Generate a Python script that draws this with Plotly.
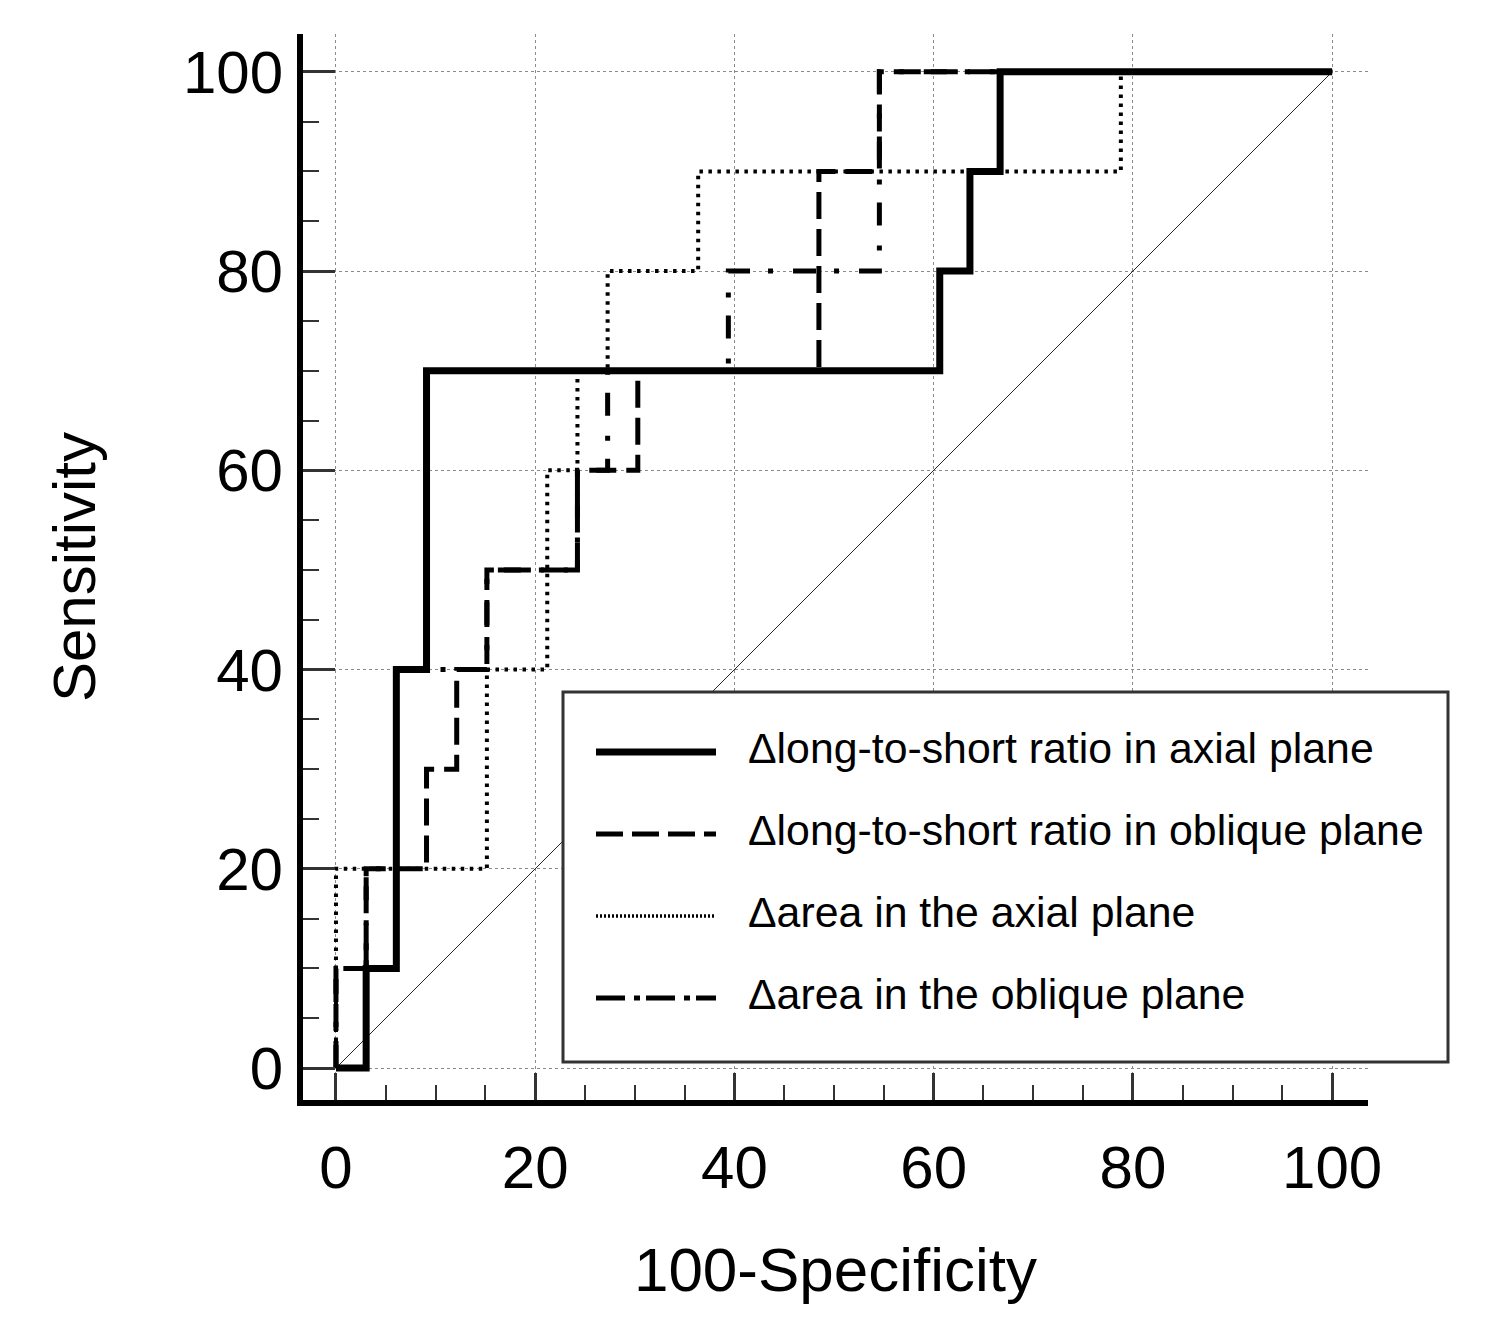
import plotly.graph_objects as go

# ---- data (ROC step points, percent) ----
series_names = [
    "\u0394long-to-short ratio in axial plane",
    "\u0394long-to-short ratio in oblique plane",
    "\u0394area in the axial plane",
    "\u0394area in the oblique plane",
]
axial_ls_fpr = [0, 3.03, 6.06, 9.09, 60.61, 63.64, 66.67, 100]
axial_ls_tpr = [0, 10, 40, 70, 80, 90, 100, 100]

oblique_ls_fpr = [0, 0, 3.03, 9.09, 12.12, 15.15, 24.24, 30.30, 48.48, 54.55, 100]
oblique_ls_tpr = [0, 10, 20, 30, 40, 50, 60, 70, 90, 100, 100]

axial_area_fpr = [0, 0, 15.15, 21.21, 24.24, 27.27, 36.36, 78.79, 100]
axial_area_tpr = [0, 20, 40, 60, 70, 80, 90, 100, 100]

oblique_area_fpr = [0, 0, 3.03, 6.06, 15.15, 24.24, 27.27, 39.39, 54.55, 100]
oblique_area_tpr = [0, 10, 20, 40, 50, 60, 70, 80, 100, 100]

diag = [0, 100]
tick_vals = [0, 20, 40, 60, 80, 100]

styles = [
    dict(width=7, dash="solid"),
    dict(width=5, dash="27px,10px"),
    dict(width=4, dash="3.5px,5.5px"),
    dict(width=5, dash="23px,18px,5px,20px"),
]
legend_dash = ["solid", "27px,9px", "2px,2px", "29px,9px,6px,6px"]
legend_width = [7, 5, 3.5, 5]

FONT = "Arial, Liberation Sans, sans-serif"

fig = go.Figure()
fig.add_trace(go.Scatter(x=diag, y=diag, mode="lines",
                         line=dict(color="#222", width=1), showlegend=False, hoverinfo="skip"))
data = [(axial_ls_fpr, axial_ls_tpr), (oblique_ls_fpr, oblique_ls_tpr),
        (axial_area_fpr, axial_area_tpr), (oblique_area_fpr, oblique_area_tpr)]
for (xs, ys), name, st in zip(data, series_names, styles):
    fig.add_trace(go.Scatter(x=xs, y=ys, mode="lines", name=name,
                             line=dict(color="black", width=st["width"], dash=st["dash"], shape="hv"),
                             showlegend=False))

# ---- manual legend ----
W, H = 1488, 1336
L, R, T, B = 303, 120, 34, 236
pw, ph = W - L - R, H - T - B
def px_x(p):
    return (p - L) / pw
def px_y(p):
    return (H - B - p) / ph

fig.add_shape(type="rect", xref="paper", yref="paper",
              x0=px_x(563), x1=px_x(1448), y0=px_y(1062), y1=px_y(692),
              line=dict(color="#333", width=3), fillcolor="white", layer="above")
row_y = [752, 834, 916, 998]
for i, name in enumerate(series_names):
    fig.add_shape(type="line", xref="paper", yref="paper",
                  x0=px_x(596), x1=px_x(716), y0=px_y(row_y[i]), y1=px_y(row_y[i]),
                  line=dict(color="black", width=legend_width[i], dash=legend_dash[i]), layer="above")
    fig.add_annotation(xref="paper", yref="paper", x=px_x(746), y=px_y(row_y[i] - 4),
                       text=name, showarrow=False, xanchor="left", yanchor="middle",
                       font=dict(family=FONT, size=42.8, color="black"))

axis_common = dict(
    showline=True, linecolor="black", linewidth=6, mirror=False,
    showgrid=True, gridcolor="#8a8a8a", griddash="dot", gridwidth=1,
    zeroline=False, ticks="inside", tickcolor="#333", tickwidth=3,
    tickvals=tick_vals, ticktext=[str(v) for v in tick_vals],
    tickfont=dict(family=FONT, size=60, color="black"),
    automargin=False,
)

fig.update_layout(
    width=W, height=H,
    margin=dict(l=L, r=R, t=T, b=B),
    paper_bgcolor="white", plot_bgcolor="white",
    showlegend=False,
    xaxis=dict(range=[-3.31, 103.6], ticklen=27, ticklabelstandoff=10,
               minor=dict(dtick=5, tick0=0, ticks="inside", ticklen=15, tickwidth=2, tickcolor="#333", showgrid=False),
               title=dict(text="100-Specificity", font=dict(family=FONT, size=62, color="black"), standoff=50),
               **axis_common),
    yaxis=dict(range=[-3.21, 103.8], ticklen=32, ticklabelstandoff=2,
               minor=dict(dtick=5, tick0=0, ticks="inside", ticklen=16, tickwidth=2, tickcolor="#333", showgrid=False),
               title=dict(text="Sensitivity", font=dict(family=FONT, size=60, color="black"), standoff=70),
               **axis_common),
)

fig.write_html("out.html", config={"displayModeBar": False},
               post_script="document.body.style.margin='0';")
